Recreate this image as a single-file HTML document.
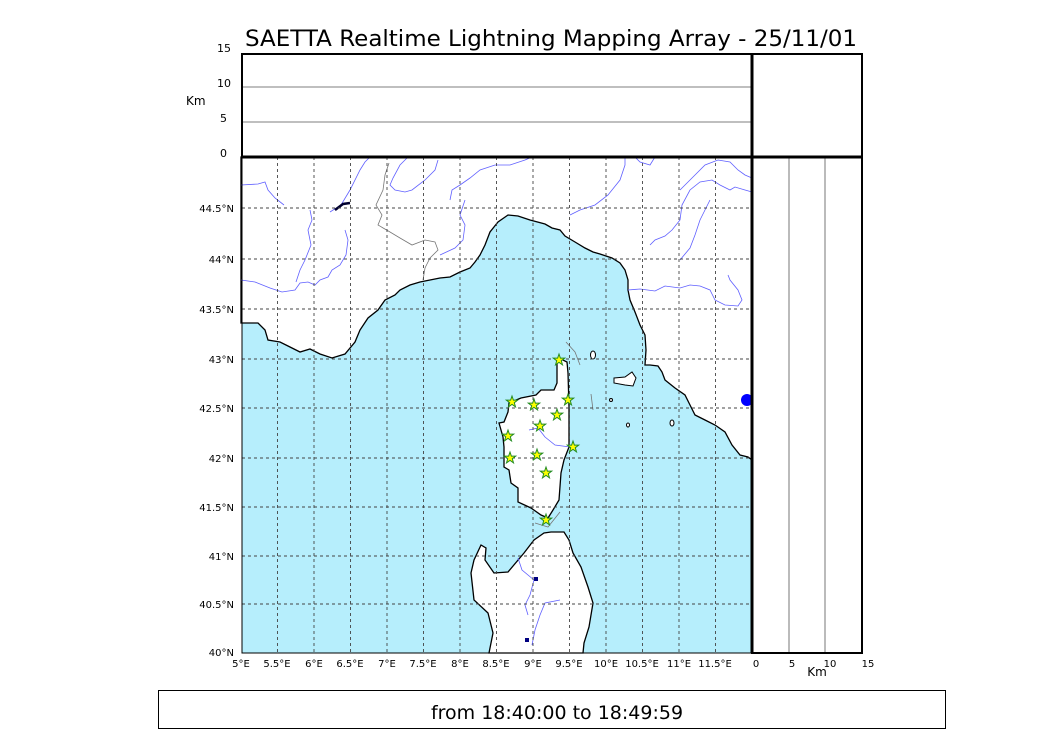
<!DOCTYPE html>
<html><head><style>
body{margin:0;background:#fff;width:1050px;height:750px;overflow:hidden;font-family:"DejaVu Sans","Liberation Sans",sans-serif;}
</style></head><body>
<svg width="1050" height="750" xmlns="http://www.w3.org/2000/svg" font-family="DejaVu Sans, Liberation Sans, sans-serif">
<text x="551" y="46" font-size="22" text-anchor="middle" textLength="612" lengthAdjust="spacingAndGlyphs">SAETTA Realtime Lightning Mapping Array - 25/11/01</text>
<!-- top panel -->
<line x1="242" y1="87" x2="752" y2="87" stroke="#555" stroke-width="0.8"/>
<line x1="242" y1="122" x2="752" y2="122" stroke="#555" stroke-width="0.8"/>
<rect x="242" y="54" width="620" height="103" fill="none" stroke="#000" stroke-width="2"/>
<line x1="752" y1="54" x2="752" y2="653" stroke="#000" stroke-width="2.5"/>
<g font-size="11" text-anchor="end">
<text x="231" y="52">15</text><text x="231" y="87">10</text><text x="227" y="122">5</text><text x="227" y="157">0</text>
</g>
<text x="186" y="105" font-size="12">Km</text>
<!-- map -->
<rect x="242" y="157" width="510" height="496" fill="#b6eefc"/>
<path d="M241,157 L752,157 L752,460 L748,457 L740,455 L732,445 L725,432 L715,425 L705,420 L695,415 L690,405 L685,395 L675,388 L665,380 L662,372 L658,366 L650,365 L645,365 L646,350 L645,335 L640,325 L635,312 L630,300 L628,290 L628,280 L625,270 L620,263 L612,258 L600,254 L593,252 L585,248 L575,242 L565,236 L560,230 L552,228 L545,224 L530,220 L518,216 L508,215 L498,222 L490,232 L485,245 L480,255 L475,262 L470,268 L460,272 L450,277 L440,278 L430,280 L420,282 L410,285 L400,290 L395,295 L385,300 L378,310 L368,318 L360,330 L355,342 L345,354 L332,358 L320,354 L310,349 L300,352 L290,347 L280,342 L268,340 L265,330 L258,323 L241,323 Z" fill="#fff" stroke="#000" stroke-width="1.3"/>
<path d="M559,358 L557,360 L557,383 L554,390 L541,390 L536,395 L521,398 L509,403 L508,412 L504,422 L499,423 L503,437 L504,447 L504,467 L509,470 L511,483 L518,488 L518,502 L531,508 L541,515 L548,518 L553,510 L559,500 L561,473 L564,460 L569,447 L569,407 L568,373 L567,362 Z" fill="#fff" stroke="#000" stroke-width="1.3"/>
<path d="M551,532 L564,532 L569,540 L573,553 L581,567 L588,587 L593,603 L589,627 L584,643 L583,653 L489,653 L493,633 L488,613 L474,600 L471,573 L474,560 L481,545 L486,548 L485,560 L494,573 L508,572 L524,553 L534,540 L544,533 Z" fill="#fff" stroke="#000" stroke-width="1.3"/>
<path d="M614,378 L625,377 L632,372 L636,378 L633,386 L625,385 L614,383 Z" fill="#fff" stroke="#000"/>
<ellipse cx="593" cy="355" rx="2.5" ry="4" fill="#fff" stroke="#000"/>
<ellipse cx="628" cy="425" rx="1.5" ry="2" fill="#fff" stroke="#000"/>
<ellipse cx="672" cy="423" rx="2" ry="3" fill="#fff" stroke="#000"/>
<ellipse cx="611" cy="400" rx="1.5" ry="1.5" fill="#fff" stroke="#000"/>
<g fill="none" stroke="#6060ff" stroke-width="0.8">
<path d="M241,185 L258,184 L265,182 L268,190 L275,198 L284,205"/>
<path d="M241,280 L255,282 L270,288 L282,292 L295,290 L300,283 L308,282 L315,285 L320,280 L328,277 L332,270 L340,265 L346,255 L348,240 L345,230"/>
<path d="M310,210 L312,220 L308,230 L311,245 L305,260 L300,270 L296,282"/>
<path d="M330,212 L341,205 L350,190 L360,170 L365,162 L370,157"/>
<path d="M408,157 L400,165 L393,178 L390,185 L395,190 L405,192 L412,190 L425,180 L435,170 L438,160"/>
<path d="M450,200 L452,190 L460,185 L470,178 L480,170 L495,165 L510,165 L525,160 L532,157"/>
<path d="M465,200 L460,215 L465,225 L463,240 L455,248 L440,255"/>
<path d="M570,215 L580,210 L595,205 L608,195 L620,180 L625,165 L625,157"/>
<path d="M635,157 L640,162 L650,165 L655,157"/>
<path d="M650,245 L655,240 L665,236 L672,230 L680,220 L682,205 L690,190 L700,182 L712,180 L720,185 L730,190 L735,187 L745,190 L752,192"/>
<path d="M680,190 L695,175 L705,165 L718,160 L730,162 L738,170 L745,175 L752,178"/>
<path d="M680,260 L690,248 L695,235 L700,220 L710,200"/>
<path d="M628,290 L640,289 L655,291 L665,286 L680,288 L690,285 L700,286 L710,290 L715,300 L725,305 L738,306 L742,300 L738,290 L730,280 L728,275"/>
<path d="M529,430 L538,428 L545,437 L555,445 L570,447"/>
<path d="M518,558 L522,570 L534,580 L530,595 L525,605 L528,615"/>
<path d="M560,600 L545,603 L540,615 L535,630 L532,645"/>
</g>
<g fill="none" stroke="#777" stroke-width="0.8">
<path d="M389,163 L385,175 L383,190 L376,205 L382,215 L378,225 L390,232 L400,238 L412,245 L425,240 L435,242 L438,250 L430,258 L425,268 L423,280"/>
<path d="M566,342 L575,352 L580,365"/>
<path d="M591,394 L593,410"/>
<path d="M535,523 L548,527 L560,512"/>
</g>
<path d="M335,210 L343,204 L350,203" stroke="#000030" stroke-width="2.5" fill="none"/>
<ellipse cx="747" cy="400" rx="6" ry="6" fill="#0000ff"/>
<rect x="534" y="577" width="4" height="4" fill="#000080"/>
<rect x="525" y="638" width="4" height="4" fill="#000080"/>
<!-- grid -->
<g stroke="#444" stroke-width="0.9" stroke-dasharray="3,3">
<line x1="277.5" y1="157" x2="277.5" y2="653"/><line x1="314" y1="157" x2="314" y2="653"/>
<line x1="350.5" y1="157" x2="350.5" y2="653"/><line x1="387" y1="157" x2="387" y2="653"/>
<line x1="423.5" y1="157" x2="423.5" y2="653"/><line x1="460" y1="157" x2="460" y2="653"/>
<line x1="496.5" y1="157" x2="496.5" y2="653"/><line x1="533" y1="157" x2="533" y2="653"/>
<line x1="569.5" y1="157" x2="569.5" y2="653"/><line x1="606" y1="157" x2="606" y2="653"/>
<line x1="642.5" y1="157" x2="642.5" y2="653"/><line x1="679" y1="157" x2="679" y2="653"/>
<line x1="715.5" y1="157" x2="715.5" y2="653"/>
<line x1="242" y1="208" x2="752" y2="208"/><line x1="242" y1="259" x2="752" y2="259"/>
<line x1="242" y1="309" x2="752" y2="309"/><line x1="242" y1="359" x2="752" y2="359"/>
<line x1="242" y1="408" x2="752" y2="408"/><line x1="242" y1="458" x2="752" y2="458"/>
<line x1="242" y1="507" x2="752" y2="507"/><line x1="242" y1="556" x2="752" y2="556"/>
<line x1="242" y1="604" x2="752" y2="604"/>
</g>
<!-- stars -->
<defs><polygon id="st" points="0,-6 1.4,-1.9 5.7,-1.9 2.3,0.7 3.5,4.9 0,2.4 -3.5,4.9 -2.3,0.7 -5.7,-1.9 -1.4,-1.9" fill="#ffff00" stroke="#228b22" stroke-width="1"/></defs>
<use href="#st" x="559" y="360"/><use href="#st" x="512" y="402"/><use href="#st" x="534" y="405"/>
<use href="#st" x="568" y="400"/><use href="#st" x="557" y="415"/><use href="#st" x="540" y="426"/>
<use href="#st" x="508" y="436"/><use href="#st" x="573" y="447"/><use href="#st" x="537" y="455"/>
<use href="#st" x="510" y="458"/><use href="#st" x="546" y="473"/><use href="#st" x="546" y="520"/>
<rect x="242" y="157" width="510" height="496" fill="none" stroke="#000" stroke-width="1"/>
<!-- right panel -->
<line x1="789" y1="157" x2="789" y2="653" stroke="#555" stroke-width="0.8"/>
<line x1="825" y1="157" x2="825" y2="653" stroke="#555" stroke-width="0.8"/>
<rect x="752" y="157" width="110" height="496" fill="none" stroke="#000" stroke-width="2"/>
<line x1="242" y1="157" x2="862" y2="157" stroke="#000" stroke-width="3"/>
<line x1="752" y1="54" x2="752" y2="653" stroke="#000" stroke-width="3"/>
<g font-size="10" text-anchor="end">
<text x="234" y="212">44.5°N</text><text x="234" y="263">44°N</text><text x="234" y="313">43.5°N</text>
<text x="234" y="363">43°N</text><text x="234" y="412">42.5°N</text><text x="234" y="462">42°N</text>
<text x="234" y="511">41.5°N</text><text x="234" y="560">41°N</text><text x="234" y="608">40.5°N</text>
<text x="234" y="656">40°N</text>
</g>
<g font-size="10" text-anchor="middle">
<text x="241" y="667">5°E</text><text x="277" y="667">5.5°E</text><text x="314" y="667">6°E</text>
<text x="350" y="667">6.5°E</text><text x="387" y="667">7°E</text><text x="423" y="667">7.5°E</text>
<text x="460" y="667">8°E</text><text x="496" y="667">8.5°E</text><text x="533" y="667">9°E</text>
<text x="569" y="667">9.5°E</text><text x="606" y="667">10°E</text><text x="642" y="667">10.5°E</text>
<text x="679" y="667">11°E</text><text x="715" y="667">11.5°E</text>
<text x="756" y="667">0</text><text x="792" y="667">5</text><text x="830" y="667">10</text><text x="868" y="667">15</text>
</g>
<text x="817" y="676" font-size="12" text-anchor="middle">Km</text>
<rect x="158.5" y="690.5" width="787" height="38" fill="none" stroke="#000" stroke-width="1"/>
<text x="557" y="719" font-size="19" text-anchor="middle">from 18:40:00 to 18:49:59</text>
</svg>
</body></html>
